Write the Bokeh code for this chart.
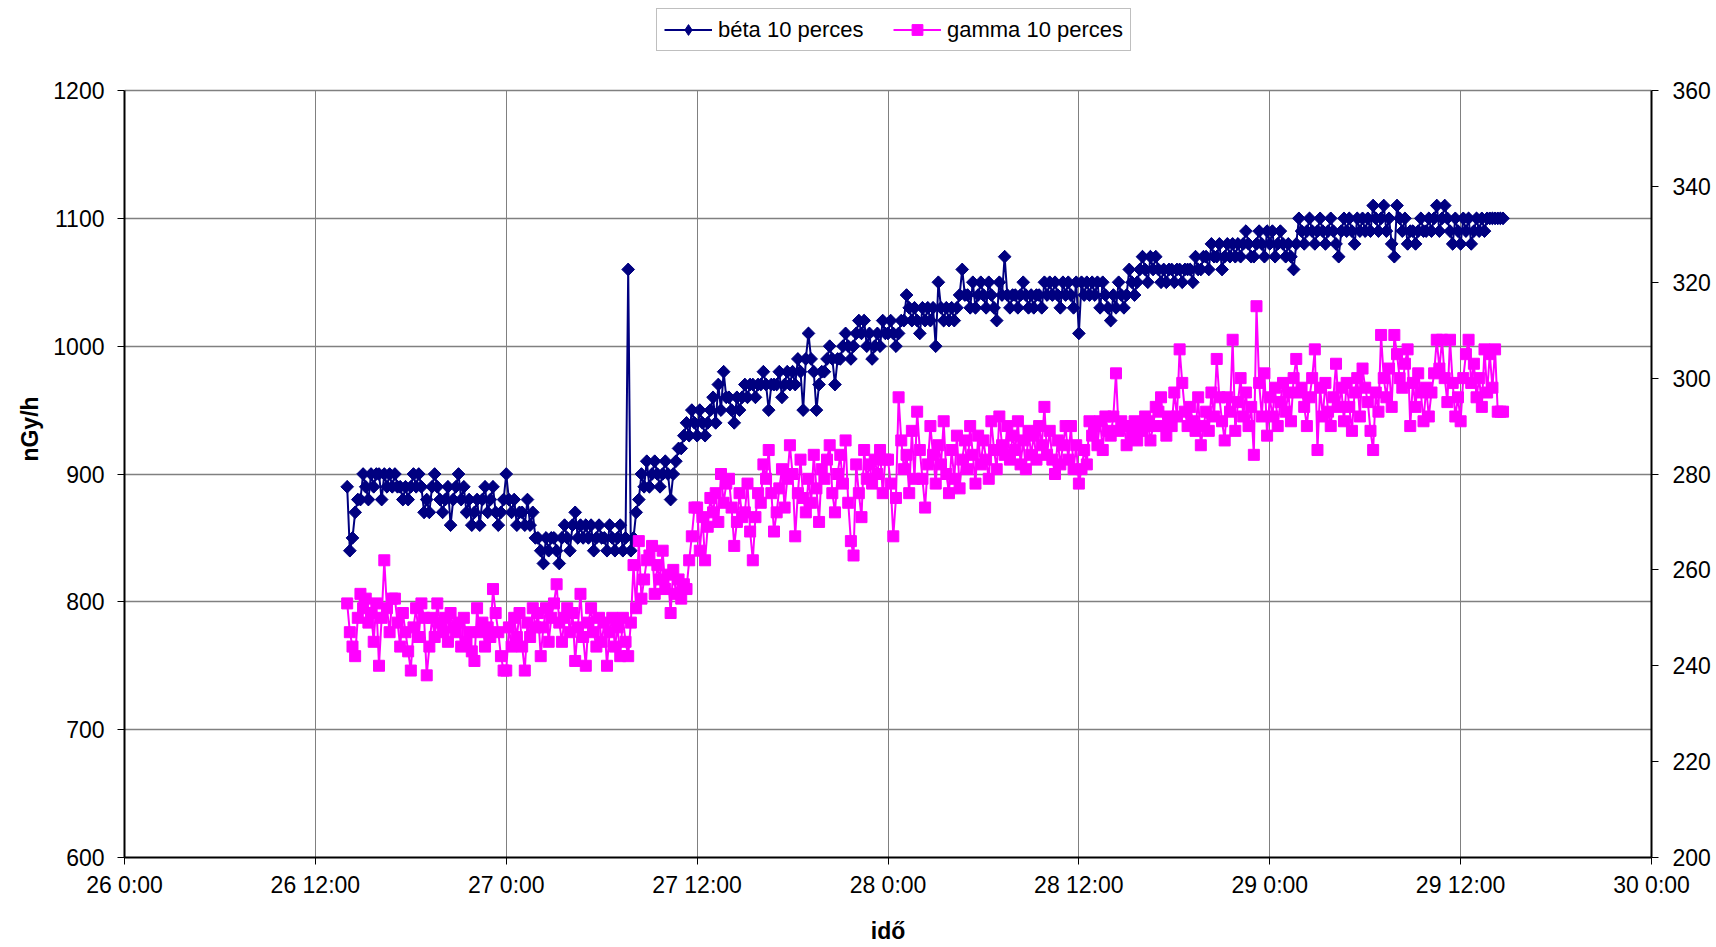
import numpy as np
from bokeh.plotting import figure
from bokeh.models import Range1d, LinearAxis, FixedTicker, Legend, LegendItem
from bokeh.embed import file_html
from bokeh.resources import INLINE

# ---------------- data ----------------
# first sample: 26 14:00 (hours counted from 26 0:00), one sample every 10 minutes
start_hour = 14.0
step_minutes = 10

# béta 10 perces (nGy/h, left axis), one row per hour
beta = [
    890, 840, 850, 870, 880, 880,
    900, 890, 880, 900, 890, 900,
    900, 880, 900, 890, 900, 890,
    900, 890, 890, 880, 890, 880,
    890, 900, 890, 900, 890, 870,
    880, 870, 890, 900, 890, 880,
    870, 880, 890, 860, 880, 890,
    900, 880, 890, 870, 880, 860,
    870, 880, 860, 880, 890, 870,
    880, 890, 870, 860, 870, 880,
    # 27
    900, 880, 870, 880, 860, 870,
    870, 860, 880, 860, 870, 850,
    850, 840, 830, 850, 840, 850,
    850, 840, 830, 850, 860, 850,
    840, 860, 870, 850, 860, 850,
    860, 850, 860, 840, 850, 860,
    850, 850, 840, 860, 850, 840,
    850, 860, 840, 850, 1060, 840,
    850, 870, 880, 900, 890, 910,
    890, 900, 910, 900, 890, 900,
    910, 900, 880, 900, 910, 920,
    920, 930, 940, 930, 950, 940,
    930, 950, 940, 930, 940, 950,
    960, 940, 970, 950, 980, 960,
    960, 950, 940, 960, 950, 960,
    970, 960, 970, 970, 960, 970,
    970, 980, 970, 950, 970, 970,
    970, 980, 960, 970, 980, 970,
    980, 970, 990, 980, 950, 990,
    1010, 990, 980, 950, 970, 980,
    980, 990, 1000, 990, 970, 990,
    990, 1000, 1010, 1000, 990, 1000,
    1010, 1020, 1010, 1020, 1000, 1010,
    990, 1000, 1010, 1000, 1020, 1010,
    # 28
    1010, 1020, 1010, 1000, 1010, 1020,
    1020, 1040, 1030, 1020, 1030, 1020,
    1010, 1030, 1020, 1030, 1020, 1030,
    1000, 1050, 1030, 1020, 1030, 1020,
    1030, 1020, 1030, 1040, 1060, 1040,
    1040, 1030, 1050, 1030, 1040, 1050,
    1040, 1030, 1050, 1040, 1030, 1020,
    1050, 1040, 1070, 1040, 1030, 1040,
    1040, 1030, 1040, 1050, 1040, 1030,
    1040, 1030, 1040, 1040, 1030, 1050,
    1040, 1050, 1040, 1050, 1040, 1030,
    1050, 1040, 1050, 1040, 1030, 1050,
    1010, 1050, 1040, 1050, 1040, 1050,
    1040, 1050, 1030, 1050, 1040, 1030,
    1020, 1040, 1030, 1050, 1040, 1030,
    1040, 1060, 1050, 1040, 1050, 1060,
    1070, 1060, 1050, 1070, 1060, 1070,
    1060, 1050, 1060, 1050, 1060, 1060,
    1050, 1060, 1060, 1050, 1060, 1060,
    1060, 1050, 1070, 1060, 1060, 1070,
    1070, 1060, 1080, 1070, 1070, 1080,
    1060, 1070, 1080, 1070, 1080, 1070,
    1080, 1070, 1080, 1090, 1080, 1070,
    1070, 1080, 1090, 1080, 1070, 1090,
    # 29
    1080, 1090, 1070, 1080, 1090, 1080,
    1070, 1080, 1070, 1060, 1080, 1100,
    1090, 1080, 1090, 1100, 1090, 1080,
    1090, 1100, 1090, 1080, 1090, 1100,
    1090, 1080, 1070, 1090, 1100, 1090,
    1100, 1090, 1080, 1100, 1090, 1100,
    1090, 1100, 1090, 1110, 1100, 1090,
    1100, 1110, 1090, 1100, 1080, 1070,
    1110, 1100, 1090, 1100, 1080, 1090,
    1090, 1080, 1090, 1100, 1090, 1090,
    1100, 1090, 1100, 1110, 1090, 1100,
    1110, 1100, 1090, 1080, 1100, 1090,
    1080, 1100, 1090, 1100, 1080, 1090,
    1100, 1090, 1100, 1090, 1100, 1100,
    1100, 1100, 1100, 1100, 1100,
]

# gamma 10 perces (right axis), one row per hour
gamma = [
    253, 247, 244, 242, 250, 255,
    252, 254, 249, 251, 245, 253,
    240, 250, 262, 252, 247, 254,
    254, 249, 244, 251, 247, 243,
    239, 248, 252, 246, 253, 250,
    238, 244, 250, 246, 253, 249,
    247, 250, 245, 251, 248, 247,
    249, 244, 250, 245, 247, 243,
    241, 252, 247, 249, 244, 248,
    246, 256, 251, 247, 242, 239,
    # 27
    239, 248, 244, 250, 246, 251,
    244, 239, 249, 246, 252, 248,
    251, 242, 248, 252, 245, 250,
    253, 257, 249, 245, 250, 252,
    247, 251, 241, 248, 255, 246,
    240, 249, 252, 247, 244, 250,
    245, 249, 240, 247, 250, 244,
    248, 242, 250, 245, 242, 249,
    261, 252, 266, 254, 258, 262,
    263, 265, 255, 261, 258, 264,
    256, 259, 251, 260, 255, 258,
    254, 257, 256, 262, 267, 273,
    273, 264, 271, 262, 269, 275,
    272, 276, 270, 280, 274, 278,
    279, 273, 265, 270, 276, 271,
    272, 278, 268, 262, 271, 276,
    274, 282, 279, 285, 276, 268,
    272, 277, 281, 273, 279, 286,
    280, 267, 276, 283, 275, 272,
    279, 274, 284, 277, 270, 281,
    279, 283, 286, 276, 272, 280,
    284, 278, 287, 274, 266, 263,
    282, 276, 271, 285, 279, 282,
    278, 283, 280, 285, 276, 283,
    # 28
    283, 278, 267, 275, 296, 287,
    281, 284, 276, 289, 279, 293,
    285, 279, 273, 282, 290, 284,
    278, 286, 282, 291, 280, 276,
    285, 279, 288, 277, 283, 287,
    281, 290, 284, 278, 288, 282,
    287, 283, 279, 291, 285, 281,
    292, 286, 284, 290, 283, 288,
    285, 291, 282, 287, 281, 289,
    284, 288, 283, 290, 286, 294,
    284, 289, 283, 280, 287, 282,
    286, 290, 283, 290, 281, 286,
    278, 281, 285, 282, 291, 288,
    290, 286, 291, 285, 292, 289,
    288, 292, 301, 289, 291, 290,
    286, 290, 288, 291, 287, 290,
    289, 292, 291, 287, 290, 294,
    293, 296, 290, 288, 292, 290,
    297, 292, 306, 299, 293, 290,
    294, 291, 289, 296, 286, 290,
    293, 289, 297, 292, 304, 296,
    291, 287, 296, 293, 308, 289,
    295, 300, 292, 297, 290, 294,
    284, 315, 299, 292, 301, 288,
    # 29
    296, 292, 298, 290, 295, 299,
    293, 297, 291, 300, 304, 297,
    298, 294, 290, 296, 300, 306,
    285, 298, 292, 299, 293, 290,
    296, 303, 294, 298, 291, 299,
    294, 289, 297, 300, 292, 302,
    298, 295, 289, 285, 297, 293,
    309, 300, 296, 302, 294, 309,
    305, 300, 298, 303, 306, 290,
    299, 294, 301, 297, 291, 298,
    292, 297, 301, 308, 302, 308,
    300, 295, 308, 299, 292, 296,
    291, 300, 305, 308, 299, 303,
    296, 300, 294, 306, 297, 305,
    298, 306, 293, 293, 293,
]

x_ticks = [0, 12, 24, 36, 48, 60, 72, 84, 96]
x_tick_labels = ["26 0:00", "26 12:00", "27 0:00", "27 12:00", "28 0:00",
                 "28 12:00", "29 0:00", "29 12:00", "30 0:00"]
left_ticks = [600, 700, 800, 900, 1000, 1100, 1200]
right_ticks = [200, 220, 240, 260, 280, 300, 320, 340, 360]

beta_label = "béta 10 perces"
gamma_label = "gamma 10 perces"
x_title = "idő"
y_title = "nGy/h"

# ---------------- layout (pixels) ----------------
W, H = 1716, 947
BORDER_LEFT, BORDER_RIGHT, BORDER_BOTTOM = 124, 65, 90
AXES_TOP_PX = 90            # where the top of the value scale sits on the page
frame_h = H - BORDER_BOTTOM  # frame reaches the top edge; room above the scale holds the legend

def padded(lo, hi):
    return Range1d(lo, hi + (hi - lo) * AXES_TOP_PX / (frame_h - AXES_TOP_PX))

# ---------------- plot ----------------
t_beta = start_hour + np.arange(len(beta)) * step_minutes / 60.0
t_gamma = start_hour + np.arange(len(gamma)) * step_minutes / 60.0

FONT = "Liberation Sans"
NAVY = "#000080"
MAGENTA = "#FF00FF"

p = figure(width=W, height=H, output_backend="svg", toolbar_location=None,
           x_range=Range1d(x_ticks[0], x_ticks[-1]),
           y_range=padded(left_ticks[0], left_ticks[-1]),
           min_border_left=BORDER_LEFT, min_border_right=BORDER_RIGHT,
           min_border_top=0, min_border_bottom=BORDER_BOTTOM)
p.extra_y_ranges = {"right": padded(right_ticks[0], right_ticks[-1])}

p.background_fill_color = "white"
p.border_fill_color = "white"
p.outline_line_color = None

left_axis = p.yaxis[0]
bottom_axis = p.xaxis[0]
right_axis = LinearAxis(y_range_name="right", ticker=FixedTicker(ticks=right_ticks))
p.add_layout(right_axis, "right")

bottom_axis.ticker = FixedTicker(ticks=x_ticks)
bottom_axis.major_label_overrides = {tk: lb for tk, lb in zip(x_ticks, x_tick_labels)}
left_axis.ticker = FixedTicker(ticks=left_ticks)
left_axis.bounds = (left_ticks[0], left_ticks[-1])
right_axis.bounds = (right_ticks[0], right_ticks[-1])

bottom_axis.axis_label = x_title
left_axis.axis_label = y_title

for ax in [bottom_axis, left_axis, right_axis]:
    ax.axis_line_color = "black"
    ax.axis_line_width = 2
    ax.major_tick_line_color = "black"
    ax.major_tick_line_width = 1
    ax.major_tick_in = 0
    ax.major_tick_out = 7
    ax.minor_tick_line_color = None
    ax.major_label_text_font = FONT
    ax.major_label_text_font_size = "23px"
    ax.major_label_text_color = "black"
    ax.axis_label_text_font = FONT
    ax.axis_label_text_font_size = "23px"
    ax.axis_label_text_font_style = "bold"
    ax.axis_label_text_color = "black"

bottom_axis.major_label_standoff = 7
left_axis.major_label_standoff = 13
right_axis.major_label_standoff = 14
bottom_axis.axis_label_standoff = 17
left_axis.axis_label_standoff = 7

p.xgrid.ticker = FixedTicker(ticks=x_ticks)
p.xgrid.cross_bounds = (left_ticks[0], left_ticks[-1])
p.ygrid.ticker = FixedTicker(ticks=left_ticks)
for g in [p.xgrid[0], p.ygrid[0]]:
    g.grid_line_color = "#808080"
    g.grid_line_width = 1
p.ygrid.grid_line_width = 1.3

# series
b_line = p.line(t_beta, beta, line_color=NAVY, line_width=2)
# diamond key (hidden under the plotted points, used for the legend symbol)
b_key = p.scatter(t_beta, beta, marker="diamond", size=12, fill_color=NAVY, line_color=NAVY)
b_pts = p.scatter(t_beta, beta, marker="square", angle=np.pi / 4, size=9,
                  fill_color=NAVY, line_color=NAVY)
g_line = p.line(t_gamma, gamma, line_color=MAGENTA, line_width=2, y_range_name="right")
g_pts = p.scatter(t_gamma, gamma, marker="square", size=11,
                  fill_color=MAGENTA, line_color=MAGENTA, y_range_name="right")

legend = Legend(items=[LegendItem(label=beta_label, renderers=[b_line, b_key]),
                       LegendItem(label=gamma_label, renderers=[g_line, g_pts])],
                orientation="horizontal", location=(532, frame_h - 51))
legend.label_text_font = FONT
legend.label_text_font_size = "22px"
legend.label_text_color = "black"
legend.border_line_color = "#808080"
legend.border_line_width = 1.5
legend.background_fill_color = "white"
legend.background_fill_alpha = 1
legend.padding = 7
legend.margin = 0
legend.spacing = 3
legend.glyph_width = 48
legend.glyph_height = 27
legend.label_standoff = 6
legend.label_width = 172
legend.label_height = 21
p.add_layout(legend, "center")

open("out.html", "w").write(file_html(p, INLINE))
